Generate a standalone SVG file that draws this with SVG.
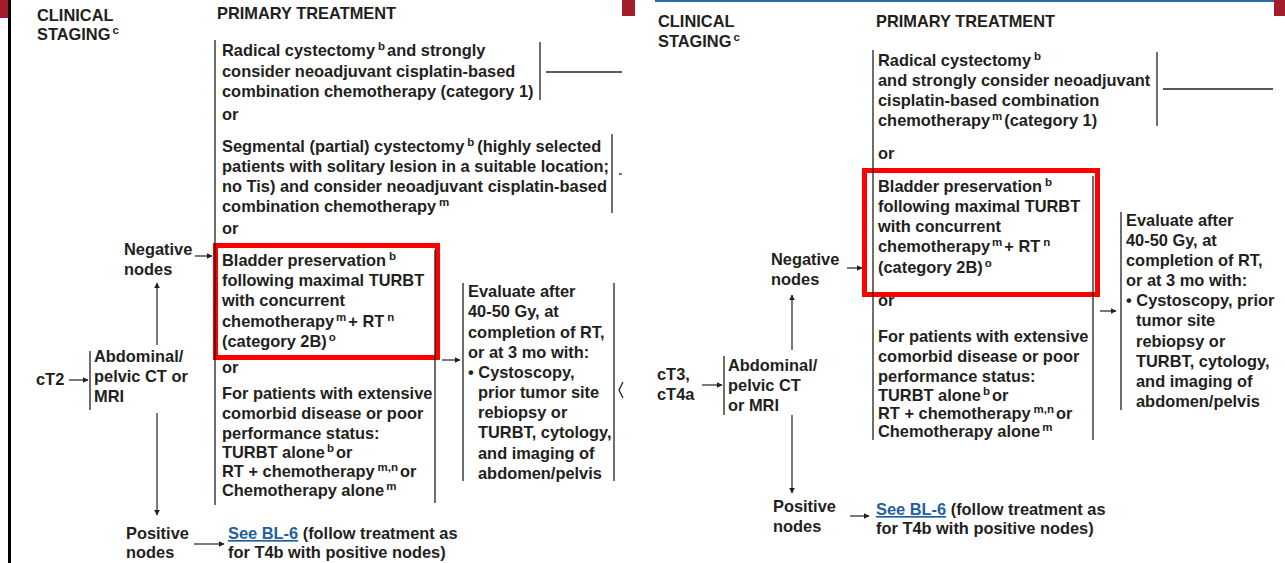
<svg xmlns="http://www.w3.org/2000/svg" width="1285" height="563" viewBox="0 0 1285 563">
<style>
text{font-family:"Liberation Sans",Arial,sans-serif;font-weight:bold;font-size:16.4px;fill:#231f20}
.s{font-size:11.5px}
.ln{stroke:#231f20;stroke-width:1.3;fill:none}
.ar{stroke:#231f20;stroke-width:1.2;fill:none;marker-end:url(#ah)}
.hl{fill:none;stroke:#ff0000;stroke-width:5}
.lk{fill:#1f5fa0;text-decoration:underline}
</style>
<defs>
<marker id="ah" viewBox="0 0 10 10" refX="9" refY="5" markerWidth="6" markerHeight="6" markerUnits="userSpaceOnUse" orient="auto">
<path d="M0,0 L10,5 L0,10 z" fill="#231f20"/>
</marker>
</defs>
<rect width="1285" height="563" fill="#ffffff"/>
<!-- frame decorations -->
<rect x="0" y="0" width="9" height="18" fill="#a51d2d"/>
<rect x="8" y="0" width="3" height="563" fill="#000"/>
<rect x="622" y="0" width="13" height="16" fill="#a51d2d"/>
<rect x="655" y="0" width="619" height="2" fill="#2a6aa8"/>
<rect x="1274" y="0" width="11" height="16" fill="#a51d2d"/>

<!-- LEFT PANEL -->
<g id="left-headers">
<text x="37" y="21">CLINICAL</text>
<text x="37" y="40">STAGING<tspan class="s" dx="2" dy="-6">c</tspan></text>
<text x="217" y="19">PRIMARY TREATMENT</text>
</g>
<g id="left-radical">
<text x="222" y="56">Radical cystectomy<tspan class="s" dx="3" dy="-6">b</tspan><tspan dx="2" dy="6">and strongly</tspan></text>
<text x="222" y="77">consider neoadjuvant cisplatin-based</text>
<text x="222" y="97">combination chemotherapy (category 1)</text>
<text x="222" y="120">or</text>
</g>
<g id="left-segmental">
<text x="222" y="152">Segmental (partial) cystectomy<tspan class="s" dx="3" dy="-6">b</tspan><tspan dx="3" dy="6">(highly selected</tspan></text>
<text x="222" y="172">patients with solitary lesion in a suitable location;</text>
<text x="222" y="192">no Tis) and consider neoadjuvant cisplatin-based</text>
<text x="222" y="212">combination chemotherapy<tspan class="s" dx="3" dy="-6">m</tspan></text>
<text x="222" y="234">or</text>
</g>
<g id="left-bladder">
<rect class="hl" x="215.5" y="245.5" width="222" height="112"/>
<text x="222" y="266">Bladder preservation<tspan class="s" dx="3" dy="-6">b</tspan></text>
<text x="222" y="286">following maximal TURBT</text>
<text x="222" y="306">with concurrent</text>
<text x="222" y="327">chemotherapy<tspan class="s" dx="2" dy="-6">m</tspan><tspan dx="2" dy="6">+ RT</tspan><tspan class="s" dx="3" dy="-6">n</tspan></text>
<text x="222" y="347">(category 2B)<tspan class="s" dx="2" dy="-6">o</tspan></text>
<text x="222" y="373">or</text>
</g>
<g id="left-comorbid">
<text x="222" y="399">For patients with extensive</text>
<text x="222" y="419">comorbid disease or poor</text>
<text x="222" y="439">performance status:</text>
<text x="222" y="458">TURBT alone<tspan class="s" dx="2" dy="-6">b</tspan><tspan dx="2" dy="6">or</tspan></text>
<text x="222" y="477">RT + chemotherapy<tspan class="s" dx="3" dy="-6">m,n</tspan><tspan dx="2" dy="6">or</tspan></text>
<text x="222" y="496">Chemotherapy alone<tspan class="s" dx="2" dy="-6">m</tspan></text>
</g>
<g id="left-evaluate">
<text x="468" y="297">Evaluate after</text>
<text x="468" y="317">40-50 Gy, at</text>
<text x="468" y="338">completion of RT,</text>
<text x="468" y="358">or at 3 mo with:</text>
<text x="468" y="378">• Cystoscopy,</text>
<text x="478" y="398">prior tumor site</text>
<text x="478" y="418">rebiopsy or</text>
<text x="478" y="438">TURBT, cytology,</text>
<text x="478" y="459">and imaging of</text>
<text x="478" y="479">abdomen/pelvis</text>
</g>
<g id="left-staging">
<text x="36" y="385">cT2</text>
<text x="94" y="362">Abdominal/</text>
<text x="94" y="382">pelvic CT or</text>
<text x="94" y="402">MRI</text>
</g>
<g id="left-negative">
<text x="124" y="255">Negative</text>
<text x="124" y="275">nodes</text>
</g>
<g id="left-positive">
<text x="126" y="539">Positive</text>
<text x="126" y="558">nodes</text>
<text x="228" y="539"><tspan class="lk">See BL-6</tspan> (follow treatment as</text>
<text x="228" y="558">for T4b with positive nodes)</text>
</g>
<g id="left-connectors">
<line class="ln" x1="215" y1="40" x2="215" y2="505"/>
<line class="ln" x1="540" y1="42" x2="540" y2="100"/>
<line class="ln" x1="546" y1="72" x2="622" y2="72"/>
<line class="ln" x1="612" y1="134" x2="612" y2="213"/>
<line class="ln" x1="619" y1="174" x2="622" y2="174"/>
<line class="ln" x1="435" y1="250" x2="435" y2="503"/>
<line class="ln" x1="463" y1="283" x2="463" y2="481"/>
<line class="ln" x1="614" y1="283" x2="614" y2="481"/>
<path class="ln" d="M623,382 L619,390 L623,398"/>
<line class="ln" x1="90" y1="351" x2="90" y2="410"/>
<line class="ar" x1="69" y1="380" x2="88" y2="380"/>
<line class="ar" x1="195" y1="256" x2="212" y2="256"/>
<line class="ar" x1="157" y1="345" x2="157" y2="283"/>
<line class="ar" x1="157" y1="413" x2="157" y2="515"/>
<line class="ar" x1="194" y1="544" x2="224" y2="544"/>
<line class="ar" x1="442" y1="360" x2="460" y2="360"/>
</g>

<!-- RIGHT PANEL -->
<g id="right-headers">
<text x="658" y="27">CLINICAL</text>
<text x="658" y="47">STAGING<tspan class="s" dx="2" dy="-6">c</tspan></text>
<text x="876" y="27">PRIMARY TREATMENT</text>
</g>
<g id="right-radical">
<text x="878" y="66">Radical cystectomy<tspan class="s" dx="3" dy="-6">b</tspan></text>
<text x="878" y="86">and strongly consider neoadjuvant</text>
<text x="878" y="106">cisplatin-based combination</text>
<text x="878" y="126">chemotherapy<tspan class="s" dx="2" dy="-6">m</tspan><tspan dx="2" dy="6">(category 1)</tspan></text>
<text x="878" y="159">or</text>
</g>
<g id="right-bladder">
<rect class="hl" x="864.5" y="170.5" width="233" height="124"/>
<text x="878" y="192">Bladder preservation<tspan class="s" dx="3" dy="-6">b</tspan></text>
<text x="878" y="212">following maximal TURBT</text>
<text x="878" y="232">with concurrent</text>
<text x="878" y="252">chemotherapy<tspan class="s" dx="2" dy="-6">m</tspan><tspan dx="2" dy="6">+ RT</tspan><tspan class="s" dx="3" dy="-6">n</tspan></text>
<text x="878" y="273">(category 2B)<tspan class="s" dx="2" dy="-6">o</tspan></text>
<text x="878" y="306">or</text>
</g>
<g id="right-comorbid">
<text x="878" y="342">For patients with extensive</text>
<text x="878" y="362">comorbid disease or poor</text>
<text x="878" y="382">performance status:</text>
<text x="878" y="401">TURBT alone<tspan class="s" dx="2" dy="-6">b</tspan><tspan dx="2" dy="6">or</tspan></text>
<text x="878" y="419">RT + chemotherapy<tspan class="s" dx="3" dy="-6">m,n</tspan><tspan dx="2" dy="6">or</tspan></text>
<text x="878" y="437">Chemotherapy alone<tspan class="s" dx="2" dy="-6">m</tspan></text>
</g>
<g id="right-evaluate">
<text x="1126" y="226">Evaluate after</text>
<text x="1126" y="246">40-50 Gy, at</text>
<text x="1126" y="266">completion of RT,</text>
<text x="1126" y="286">or at 3 mo with:</text>
<text x="1126" y="306">• Cystoscopy, prior</text>
<text x="1136" y="326">tumor site</text>
<text x="1136" y="347">rebiopsy or</text>
<text x="1136" y="367">TURBT, cytology,</text>
<text x="1136" y="387">and imaging of</text>
<text x="1136" y="407">abdomen/pelvis</text>
</g>
<g id="right-staging">
<text x="657" y="380">cT3,</text>
<text x="657" y="400">cT4a</text>
<text x="728" y="371">Abdominal/</text>
<text x="728" y="391">pelvic CT</text>
<text x="728" y="411">or MRI</text>
</g>
<g id="right-negative">
<text x="771" y="265">Negative</text>
<text x="771" y="285">nodes</text>
</g>
<g id="right-positive">
<text x="773" y="512">Positive</text>
<text x="773" y="532">nodes</text>
<text x="876" y="515"><tspan class="lk">See BL-6</tspan> (follow treatment as</text>
<text x="876" y="534">for T4b with positive nodes)</text>
</g>
<g id="right-connectors">
<line class="ln" x1="873" y1="50" x2="873" y2="440"/>
<line class="ln" x1="1157" y1="52" x2="1157" y2="126"/>
<line class="ln" x1="1163" y1="89" x2="1273" y2="89"/>
<line class="ln" x1="1093" y1="176" x2="1093" y2="440"/>
<line class="ln" x1="1121" y1="212" x2="1121" y2="410"/>
<line class="ln" x1="724" y1="356" x2="724" y2="415"/>
<line class="ar" x1="702" y1="385" x2="722" y2="385"/>
<line class="ar" x1="847" y1="268" x2="862" y2="268"/>
<line class="ar" x1="792" y1="350" x2="792" y2="295"/>
<line class="ar" x1="792" y1="415" x2="792" y2="493"/>
<line class="ar" x1="850" y1="516" x2="869" y2="516"/>
<line class="ar" x1="1100" y1="311" x2="1116" y2="311"/>
</g>
</svg>
